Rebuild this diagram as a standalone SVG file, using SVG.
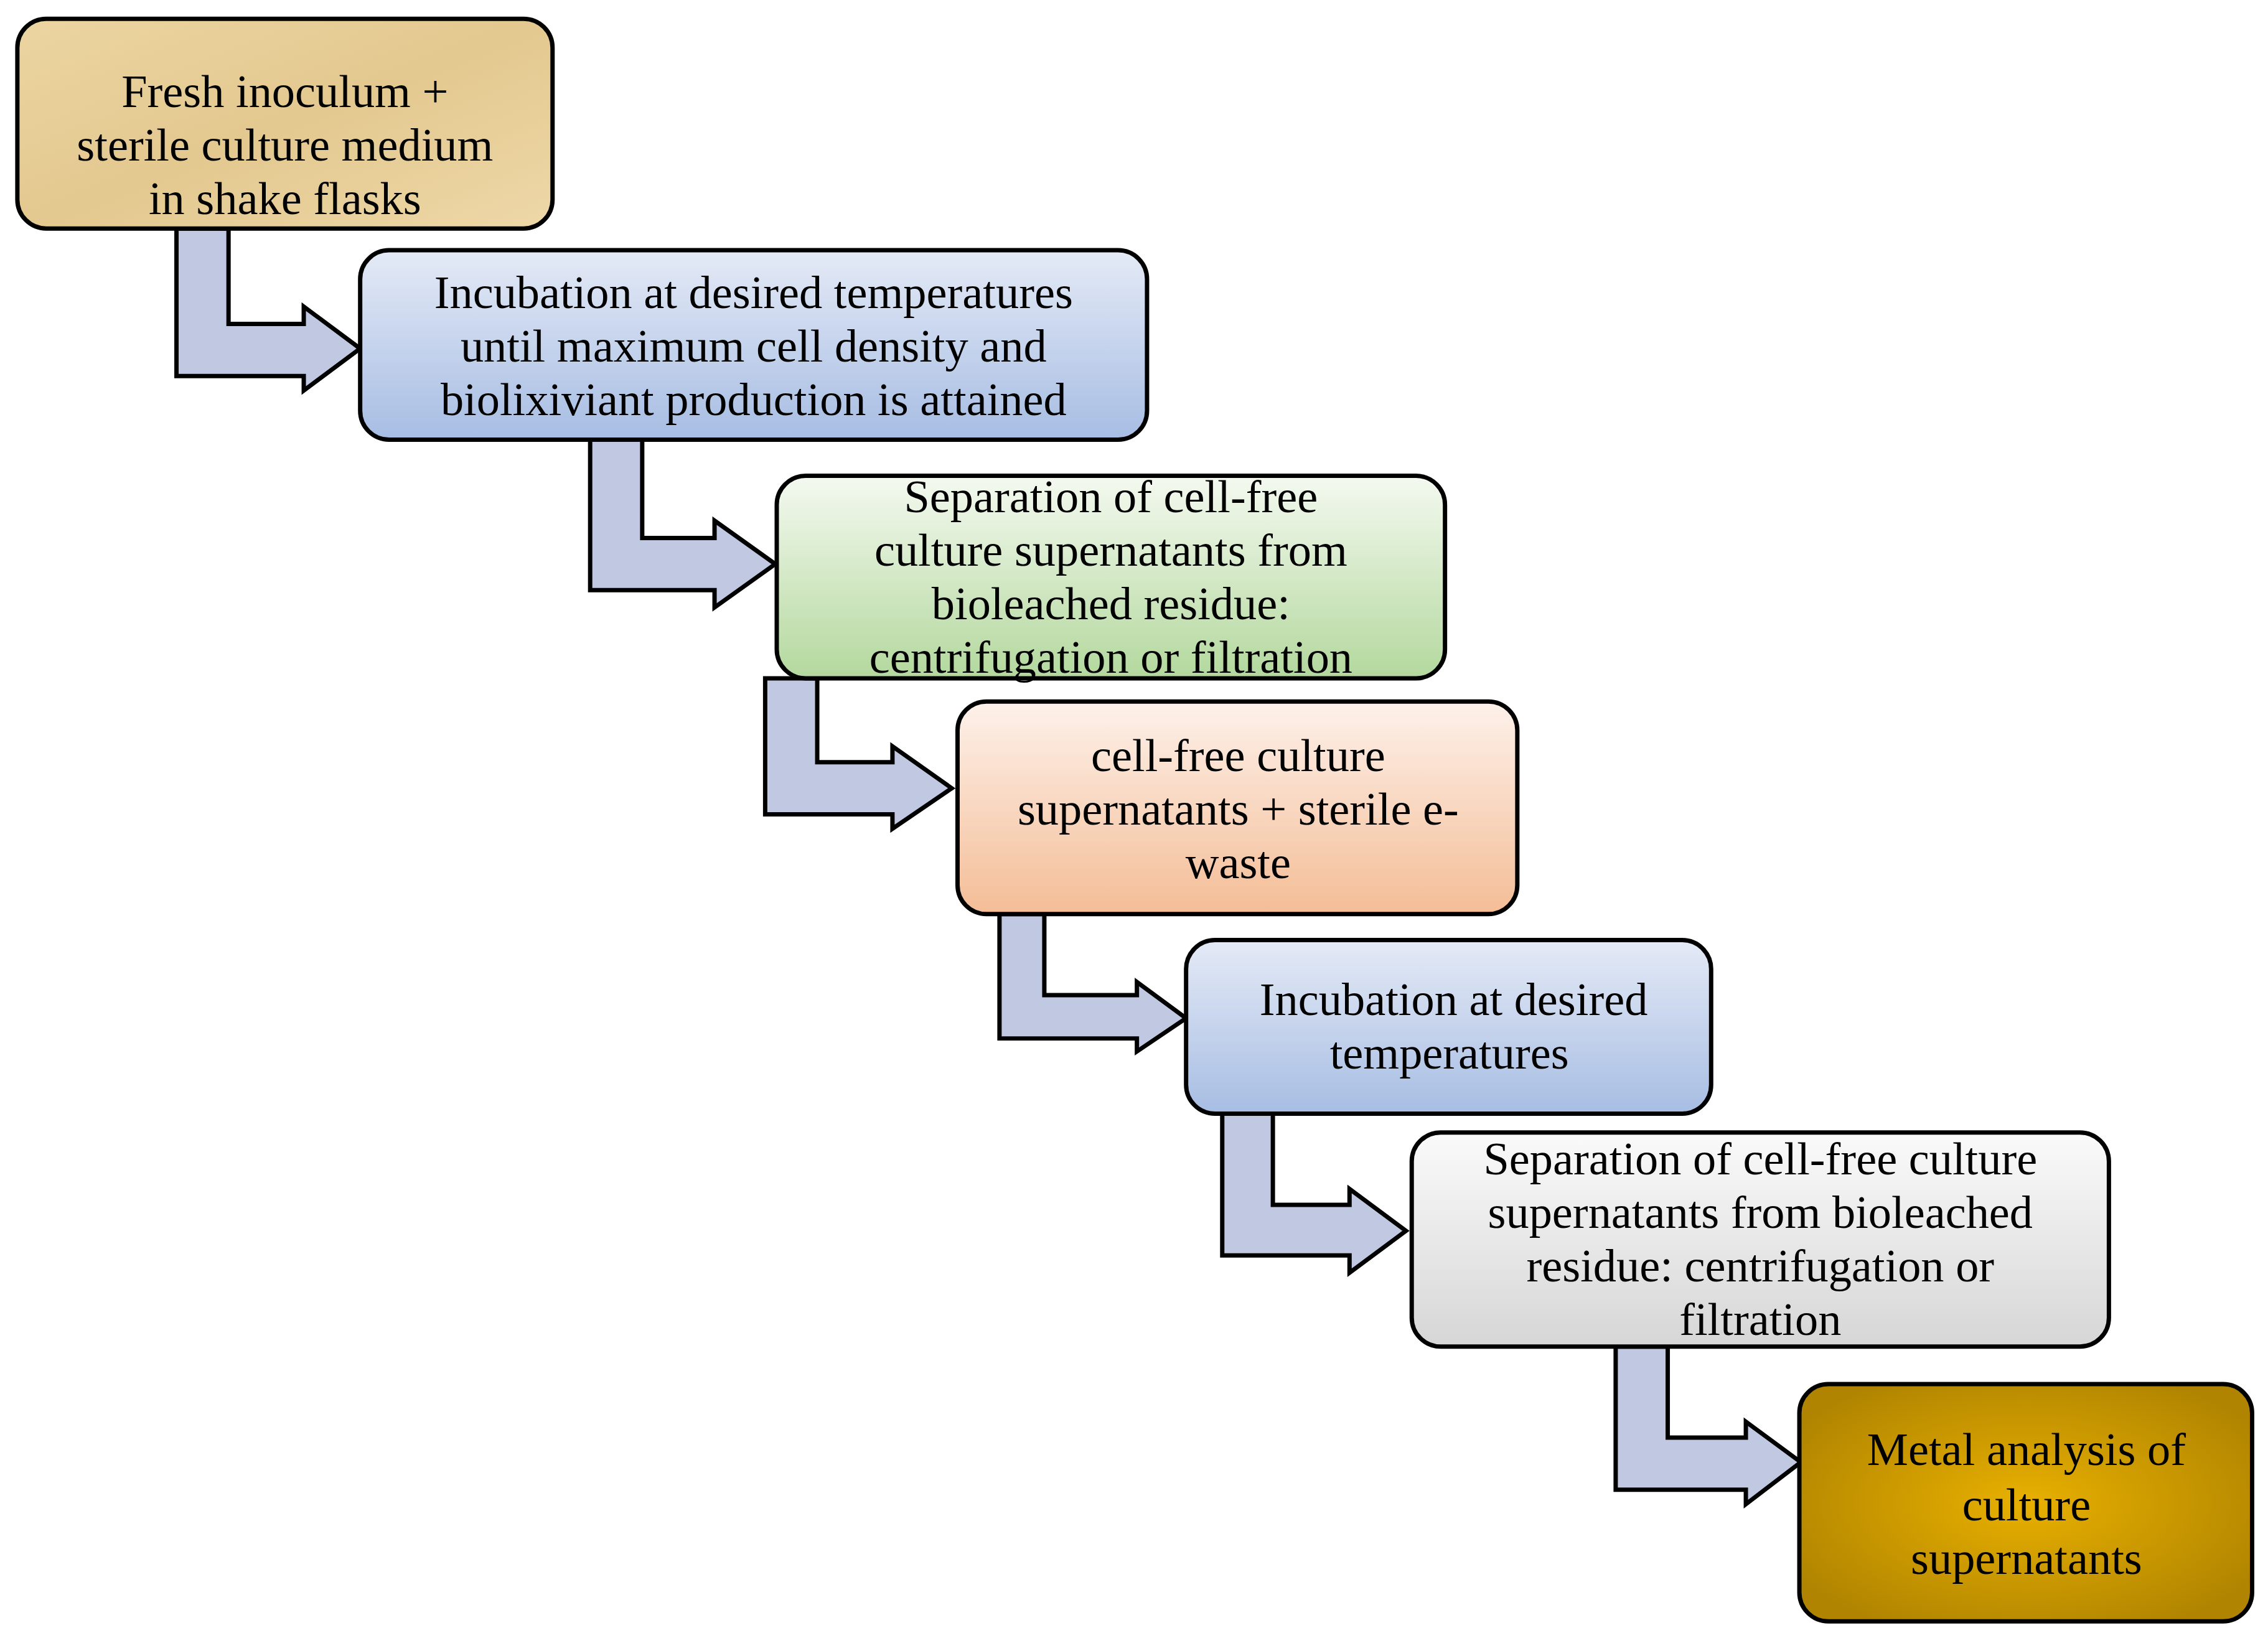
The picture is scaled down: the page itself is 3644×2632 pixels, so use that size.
<svg xmlns="http://www.w3.org/2000/svg" width="3644" height="2632" viewBox="0 0 3644 2632">
<defs>
<linearGradient id="gBlue" x1="0" y1="0" x2="0" y2="1"><stop offset="0" stop-color="#e4eaf6"/><stop offset="1" stop-color="#a7bde3"/></linearGradient>
<linearGradient id="gGreen" x1="0" y1="0" x2="0" y2="1"><stop offset="0" stop-color="#f4f9f0"/><stop offset="1" stop-color="#b3d89d"/></linearGradient>
<linearGradient id="gOrange" x1="0" y1="0" x2="0" y2="1"><stop offset="0" stop-color="#fdf1ea"/><stop offset="1" stop-color="#f4bd96"/></linearGradient>
<linearGradient id="gGray" x1="0" y1="0" x2="0" y2="1"><stop offset="0" stop-color="#fafafa"/><stop offset="1" stop-color="#d6d6d6"/></linearGradient>
<radialGradient id="gGold" cx="0.5" cy="0.5" r="0.6"><stop offset="0" stop-color="#e8b000"/><stop offset="1" stop-color="#b08400"/></radialGradient>
<linearGradient id="gTan" x1="0" y1="0" x2="1" y2="1"><stop offset="0" stop-color="#ecd5a2"/><stop offset="0.5" stop-color="#e3c88f"/><stop offset="1" stop-color="#eed8a8"/></linearGradient>
</defs>
<style>
.box{stroke:#000;stroke-width:3}
.arr{fill:#c0c8e2;stroke:#000;stroke-width:3;stroke-linejoin:miter}
text{font-family:"Liberation Serif","Times New Roman",serif;font-size:32px;fill:#000;text-anchor:middle}
</style>
<rect width="3644" height="2632" fill="#fff"/>
<g transform="scale(2.324)">
<g id="connectors">
<polygon class="arr" points="122,158 158,158 158,224 210,224 210,212 249,241 210,270 210,260 122,260"/>
<polygon class="arr" points="408,304 444,304 444,372 494,372 494,360 536,390 494,420 494,408 408,408"/>
<polygon class="arr" points="529,469 565,469 565,527 617,527 617,516 658,545 617,573 617,563 529,563"/>
<polygon class="arr" points="691,632 722,632 722,688 786,688 786,679 820,704 786,727 786,718 691,718"/>
<polygon class="arr" points="845,770 880,770 880,833 933,833 933,822 972,851 933,880 933,868 845,868"/>
<polygon class="arr" points="1117,931 1153,931 1153,994 1207,994 1207,983 1245,1011 1207,1040 1207,1030 1117,1030"/>
</g>
<g id="n1"><rect class="box" x="12" y="13" width="370" height="145" rx="20" fill="url(#gTan)"/>
<text x="197" y="74">Fresh inoculum +</text><text x="197" y="111">sterile culture medium</text><text x="197" y="148">in shake flasks</text></g>
<g id="n2"><rect class="box" x="249" y="173" width="544" height="131" rx="20" fill="url(#gBlue)"/>
<text x="521" y="213">Incubation at desired temperatures</text><text x="521" y="250">until maximum cell density and</text><text x="521" y="287">biolixiviant production is attained</text></g>
<g id="n3"><rect class="box" x="537" y="329" width="462" height="140" rx="20" fill="url(#gGreen)"/>
<text x="768" y="354">Separation of cell-free</text><text x="768" y="391">culture supernatants from</text><text x="768" y="428">bioleached residue:</text><text x="768" y="465">centrifugation or filtration</text></g>
<g id="n4"><rect class="box" x="662" y="485" width="387" height="147" rx="20" fill="url(#gOrange)"/>
<text x="856" y="533">cell-free culture</text><text x="856" y="570">supernatants + sterile e-</text><text x="856" y="607">waste</text></g>
<g id="n5"><rect class="box" x="820" y="650" width="363" height="120" rx="20" fill="url(#gBlue)"/>
<text x="1005" y="702">Incubation at desired</text><text x="1002" y="739">temperatures</text></g>
<g id="n6"><rect class="box" x="976" y="783" width="482" height="148" rx="20" fill="url(#gGray)"/>
<text x="1217" y="812">Separation of cell-free culture</text><text x="1217" y="849">supernatants from bioleached</text><text x="1217" y="886">residue: centrifugation or</text><text x="1217" y="923">filtration</text></g>
<g id="n7"><rect class="box" x="1244" y="957" width="313" height="164" rx="20" fill="url(#gGold)"/>
<text x="1401" y="1013">Metal analysis of</text><text x="1401" y="1051">culture</text><text x="1401" y="1088">supernatants</text></g>
</g>
</svg>
